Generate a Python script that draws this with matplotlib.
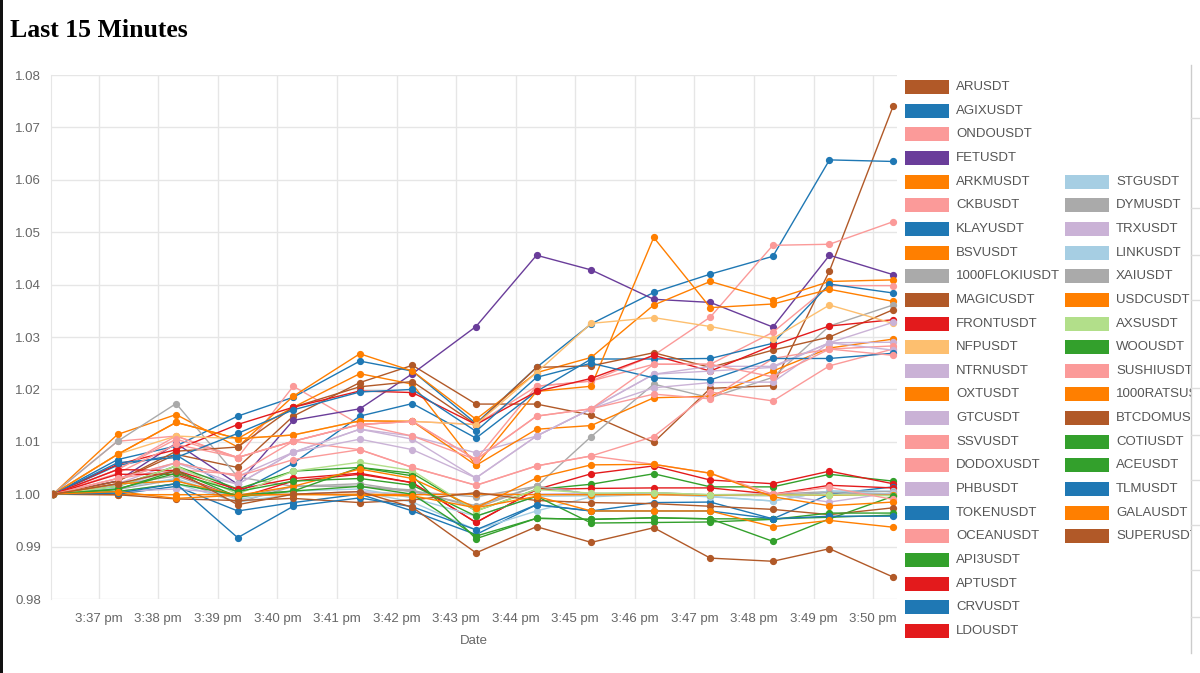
import datetime
import matplotlib
matplotlib.use("Agg")
import matplotlib.pyplot as plt
import matplotlib.dates as mdates
from matplotlib.patches import Rectangle
from matplotlib.lines import Line2D
from matplotlib.ticker import FuncFormatter

# ---------------- data ----------------
times = ["15:36:14", "15:37:19", "15:38:18", "15:39:20", "15:40:16", "15:41:23", "15:42:16",
         "15:43:20", "15:44:21", "15:45:16", "15:46:19", "15:47:16", "15:48:19", "15:49:16", "15:50:20"]

ARUSDT = [1.0, 1.0025, 1.0076, 1.0051, 1.0149, 1.0213, 1.0246, 1.0172, 1.0172, 1.0151, 1.0099, 1.0202, 1.0207, 1.0426, 1.0740]
AGIXUSDT = [1.0, 1.0066, 1.0092, 1.0149, 1.0185, 1.0254, 1.0235, 1.0135, 1.0242, 1.0325, 1.0385, 1.0420, 1.0454, 1.0638, 1.0635]
ONDOUSDT = [1.0, 1.0047, 1.0111, 1.0070, 1.0206, 1.0133, 1.0139, 1.0066, 1.0206, 1.0216, 1.0265, 1.0338, 1.0475, 1.0477, 1.0520]
FETUSDT = [1.0, 1.0025, 1.0097, 1.0019, 1.0141, 1.0163, 1.0230, 1.0320, 1.0456, 1.0428, 1.0372, 1.0366, 1.0319, 1.0456, 1.0419]
ARKMUSDT = [1.0, 1.0114, 1.0152, 1.0090, 1.0187, 1.0268, 1.0235, 1.0143, 1.0232, 1.0261, 1.0361, 1.0406, 1.0371, 1.0406, 1.0409]
CKBUSDT = [1.0, 1.0101, 1.0111, 1.0070, 1.0101, 1.0133, 1.0139, 1.0133, 1.0206, 1.0216, 1.0248, 1.0248, 1.0309, 1.0398, 1.0398]
KLAYUSDT = [1.0, 1.0055, 1.0075, 1.0003, 1.0059, 1.0149, 1.0173, 1.0107, 1.0196, 1.0258, 1.0258, 1.0259, 1.0288, 1.0401, 1.0384]
BSVUSDT = [1.0, 1.0076, 1.0137, 1.0106, 1.0166, 1.0230, 1.0210, 1.0055, 1.0196, 1.0206, 1.0490, 1.0356, 1.0363, 1.0391, 1.0368]
FLOKIUSDT = [1.0, 1.0101, 1.0173, 1.0033, 1.0015, 1.0015, 1.0005, 0.9995, 1.0015, 1.0110, 1.0210, 1.0184, 1.0223, 1.0321, 1.0361]
MAGICUSDT = [1.0, 1.0025, 1.0082, 1.0090, 1.0166, 1.0205, 1.0215, 1.0133, 1.0242, 1.0245, 1.0270, 1.0242, 1.0275, 1.0300, 1.0352]
FRONTUSDT = [1.0, 1.0057, 1.0085, 1.0133, 1.0166, 1.0197, 1.0194, 1.0133, 1.0196, 1.0221, 1.0265, 1.0235, 1.0284, 1.0321, 1.0333]
NFPUSDT = [1.0, 1.0076, 1.0111, 1.0106, 1.0113, 1.0140, 1.0139, 1.0133, 1.0232, 1.0326, 1.0337, 1.0320, 1.0297, 1.0361, 1.0326]
NTRNUSDT = [1.0, 1.0030, 1.0060, 1.0034, 1.0080, 1.0124, 1.0111, 1.0079, 1.0111, 1.0163, 1.0229, 1.0235, 1.0242, 1.0289, 1.0328]
OXTUSDT = [1.0, 1.0076, 1.0137, 1.0106, 1.0113, 1.0140, 1.0139, 1.0055, 1.0124, 1.0131, 1.0184, 1.0187, 1.0235, 1.0279, 1.0296]
GTCUSDT = [1.0, 1.0020, 1.0060, 1.0019, 1.0080, 1.0124, 1.0105, 1.0031, 1.0111, 1.0163, 1.0203, 1.0213, 1.0214, 1.0289, 1.0290]
SSVUSDT = [1.0, 1.0047, 1.0105, 1.0070, 1.0101, 1.0133, 1.0139, 1.0066, 1.0149, 1.0163, 1.0191, 1.0182, 1.0259, 1.0277, 1.0283]
DODOXUSDT = [1.0, 1.0030, 1.0047, 1.0038, 1.0101, 1.0085, 1.0051, 1.0017, 1.0054, 1.0073, 1.0110, 1.0195, 1.0178, 1.0245, 1.0277]
PHBUSDT = [1.0, 1.0015, 1.0047, 1.0019, 1.0080, 1.0105, 1.0085, 1.0031, 1.0111, 1.0163, 1.0229, 1.0244, 1.0244, 1.0289, 1.0275]
TOKENUSDT = [1.0, 1.0060, 1.0070, 1.0116, 1.0161, 1.0195, 1.0200, 1.0120, 1.0223, 1.0250, 1.0222, 1.0218, 1.0259, 1.0259, 1.0269]
OCEANUSDT = [1.0, 1.0040, 1.0095, 1.0070, 1.0101, 1.0133, 1.0111, 1.0066, 1.0149, 1.0163, 1.0248, 1.0248, 1.0224, 1.0277, 1.0265]
API3USDT = [1.0, 1.0015, 1.0054, 1.0010, 1.0044, 1.0051, 1.0040, 0.9968, 1.0009, 1.0019, 1.0039, 1.0014, 1.0014, 1.0038, 1.0025]
APTUSDT = [1.0, 1.0038, 1.0038, 0.9993, 1.0025, 1.0038, 1.0022, 0.9946, 1.0009, 1.0039, 1.0054, 1.0027, 1.0020, 1.0044, 1.0020]
CRVUSDT = [1.0, 1.0000, 1.0015, 0.9968, 0.9984, 1.0000, 0.9968, 0.9923, 0.9980, 0.9968, 0.9984, 0.9985, 0.9953, 1.0000, 1.0014]
LDOUSDT = [1.0, 1.0047, 1.0045, 1.0009, 1.0030, 1.0040, 1.0022, 0.9946, 1.0009, 1.0011, 1.0012, 1.0012, 1.0000, 1.0017, 1.0012]
STGUSDT = [1.0, 1.0005, 1.0020, 0.9985, 1.0000, 1.0005, 0.9985, 0.9932, 0.9968, 0.9995, 1.0000, 0.9995, 0.9987, 1.0006, 1.0006]
DYMUSDT = [1.0, 1.0009, 1.0028, 0.9984, 1.0015, 1.0015, 1.0008, 0.9974, 1.0015, 1.0000, 1.0003, 0.9999, 1.0000, 1.0005, 1.0005]
TRXUSDT = [1.0, 1.0005, 1.0010, 1.0000, 1.0000, 1.0005, 1.0000, 1.0000, 1.0000, 1.0002, 1.0000, 0.9998, 1.0000, 0.9985, 1.0003]
LINKUSDT = [1.0, 1.0012, 1.0030, 0.9990, 1.0006, 1.0010, 0.9993, 0.9958, 0.9996, 0.9997, 1.0003, 0.9996, 0.9987, 1.0006, 1.0000]
XAIUSDT = [1.0, 1.0018, 1.0035, 0.9993, 1.0015, 1.0020, 1.0005, 0.9978, 1.0015, 1.0000, 1.0003, 0.9998, 0.9997, 1.0003, 0.9999]
USDCUSDT = [1.0, 0.9999, 0.9999, 0.9999, 0.9999, 1.0000, 0.9999, 1.0000, 0.9999, 0.9999, 0.9999, 0.9998, 0.9999, 0.9998, 0.9998]
AXSUSDT = [1.0, 1.0015, 1.0054, 1.0000, 1.0044, 1.0061, 1.0045, 0.9968, 1.0009, 1.0002, 1.0003, 0.9999, 0.9998, 0.9999, 0.9997]
WOOUSDT = [1.0, 1.0009, 1.0045, 0.9995, 1.0006, 1.0051, 1.0035, 0.9915, 0.9954, 0.9952, 0.9955, 0.9953, 0.9910, 0.9953, 0.9996]
SUSHIUSDT = [1.0, 1.0030, 1.0060, 1.0034, 1.0066, 1.0085, 1.0051, 1.0017, 1.0054, 1.0073, 1.0057, 1.0040, 1.0000, 1.0013, 0.9990]
RATSUSDT = [1.0, 1.0020, 1.0025, 0.9998, 1.0015, 1.0048, 1.0030, 0.9974, 1.0031, 1.0056, 1.0057, 1.0040, 0.9995, 0.9978, 0.9985]
BTCDOMUSDT = [1.0, 0.9999, 0.9991, 0.9988, 0.9992, 0.9984, 0.9989, 1.0003, 0.9988, 0.9984, 0.9982, 0.9977, 0.9971, 0.9961, 0.9974]
COTIUSDT = [1.0, 1.0010, 1.0040, 1.0005, 1.0025, 1.0030, 1.0017, 0.9958, 0.9996, 0.9945, 0.9946, 0.9947, 0.9952, 0.9964, 0.9964]
ACEUSDT = [1.0, 1.0005, 1.0020, 0.9998, 1.0006, 1.0015, 1.0000, 0.9920, 0.9954, 0.9952, 0.9955, 0.9953, 0.9953, 0.9956, 0.9960]
TLMUSDT = [1.0, 1.0002, 1.0020, 0.9917, 0.9977, 0.9993, 0.9976, 0.9932, 0.9980, 0.9968, 0.9968, 0.9968, 0.9953, 0.9958, 0.9958]
GALAUSDT = [1.0, 1.0005, 0.9992, 0.9998, 1.0000, 0.9998, 0.9997, 0.9974, 0.9996, 0.9968, 0.9968, 0.9968, 0.9938, 0.9950, 0.9937]
SUPERUSDT = [1.0, 1.0020, 1.0045, 0.9980, 1.0000, 1.0005, 0.9975, 0.9888, 0.9938, 0.9908, 0.9936, 0.9878, 0.9872, 0.9896, 0.9842]

names = ["ARUSDT", "AGIXUSDT", "ONDOUSDT", "FETUSDT", "ARKMUSDT", "CKBUSDT", "KLAYUSDT", "BSVUSDT",
         "1000FLOKIUSDT", "MAGICUSDT", "FRONTUSDT", "NFPUSDT", "NTRNUSDT", "OXTUSDT", "GTCUSDT", "SSVUSDT",
         "DODOXUSDT", "PHBUSDT", "TOKENUSDT", "OCEANUSDT", "API3USDT", "APTUSDT", "CRVUSDT", "LDOUSDT",
         "STGUSDT", "DYMUSDT", "TRXUSDT", "LINKUSDT", "XAIUSDT", "USDCUSDT", "AXSUSDT", "WOOUSDT",
         "SUSHIUSDT", "1000RATSUSDT", "BTCDOMUSDT", "COTIUSDT", "ACEUSDT", "TLMUSDT", "GALAUSDT", "SUPERUSDT"]
series = [ARUSDT, AGIXUSDT, ONDOUSDT, FETUSDT, ARKMUSDT, CKBUSDT, KLAYUSDT, BSVUSDT,
          FLOKIUSDT, MAGICUSDT, FRONTUSDT, NFPUSDT, NTRNUSDT, OXTUSDT, GTCUSDT, SSVUSDT,
          DODOXUSDT, PHBUSDT, TOKENUSDT, OCEANUSDT, API3USDT, APTUSDT, CRVUSDT, LDOUSDT,
          STGUSDT, DYMUSDT, TRXUSDT, LINKUSDT, XAIUSDT, USDCUSDT, AXSUSDT, WOOUSDT,
          SUSHIUSDT, RATSUSDT, BTCDOMUSDT, COTIUSDT, ACEUSDT, TLMUSDT, GALAUSDT, SUPERUSDT]

BROWN, BLUE, PINK, PURPLE = "#b15928", "#1f78b4", "#fb9a99", "#6a3d9a"
ORANGE, GRAY, RED, LORANGE = "#ff7f00", "#aaaaaa", "#e31a1c", "#fdbf6f"
LPURPLE, GREEN, LBLUE, LGREEN = "#cab2d6", "#33a02c", "#a6cee3", "#b2df8a"
colors = [BROWN, BLUE, PINK, PURPLE, ORANGE, PINK, BLUE, ORANGE,
          GRAY, BROWN, RED, LORANGE, LPURPLE, ORANGE, LPURPLE, PINK,
          PINK, LPURPLE, BLUE, PINK, GREEN, RED, BLUE, RED,
          LBLUE, GRAY, LPURPLE, LBLUE, GRAY, ORANGE, LGREEN, GREEN,
          PINK, ORANGE, BROWN, GREEN, GREEN, BLUE, ORANGE, BROWN]

yticks = [0.98, 0.99, 1.00, 1.01, 1.02, 1.03, 1.04, 1.05, 1.06, 1.07, 1.08]

# ---------------- figure ----------------
W, H = 1200, 673
fig = plt.figure(figsize=(W / 100, H / 100), dpi=100)
fig.patch.set_facecolor("white")
SANS = ["Liberation Sans", "DejaVu Sans"]


def fx(px):
    return px / W


def fy(py):
    return 1 - py / H


ax_l, ax_r, ax_t, ax_b = 51, 897, 75, 599
ax = fig.add_axes([fx(ax_l), fy(ax_b), fx(ax_r - ax_l), fy(ax_t) - fy(ax_b)])

dates = [datetime.datetime(2024, 3, 1, *map(int, t.split(":"))) for t in times]
for vals, col in zip(series, colors):
    ax.plot(dates, vals, color=col, lw=1.0, marker="o", ms=4.2, mec=col, mfc=col, zorder=2)

ax.set_ylim(0.98, 1.08)
ax.set_xlim(datetime.datetime(2024, 3, 1, 15, 36, 12), datetime.datetime(2024, 3, 1, 15, 50, 24))
ax.set_yticks(yticks)
ax.set_yticklabels([f"{v:.2f}" for v in yticks])
ax.xaxis.set_major_locator(mdates.MinuteLocator())


def fmt(x, pos=None):
    d = mdates.num2date(x)
    h = d.hour % 12 or 12
    return f"{h}:{d.minute:02d} {'pm' if d.hour >= 12 else 'am'}"


ax.xaxis.set_major_formatter(FuncFormatter(fmt))
ax.grid(True, color="#e6e6e6", lw=1.0, zorder=0)
ax.set_axisbelow(True)
for s in ["top", "right", "bottom"]:
    ax.spines[s].set_visible(False)
ax.spines["left"].set_color("#e6e6e6")
ax.tick_params(length=0, pad=7, labelsize=9.5, colors="#666666")
ax.tick_params(axis="x", pad=10)
for lab in ax.get_xticklabels() + ax.get_yticklabels():
    lab.set_family(SANS)
ax.set_xlabel("Date", fontsize=9.5, color="#666666", family=SANS, labelpad=7)

# title
fig.text(fx(10), fy(37), "Last 15 Minutes", fontsize=18.5, fontweight="bold",
         family=["Liberation Serif", "DejaVu Serif"], color="black", va="baseline")

# legend (two vertically centred columns)
row0, dy = 87, 23.65
for i, (nm, col) in enumerate(zip(names, colors)):
    if i < 24:
        r, sx, tx = i, 905, 956
    else:
        r, sx, tx = i - 20, 1065, 1116
    yc = row0 + r * dy
    fig.patches.append(Rectangle((fx(sx), fy(yc + 7)), fx(44), fy(yc - 7) - fy(yc + 7),
                                 transform=fig.transFigure, facecolor=col, edgecolor="none", zorder=2))
    fig.text(fx(tx), fy(yc), nm, fontsize=9.5, color="#555555", family=SANS, va="center", zorder=3)

# clipped side panel at right
fig.patches.append(Rectangle((fx(1191), 0), fx(W - 1191), 1, transform=fig.transFigure,
                             facecolor="white", edgecolor="none", zorder=10))
fig.lines.append(Line2D([fx(1191), fx(1191)], [fy(65), fy(653)], transform=fig.transFigure,
                        color="#cccccc", lw=1.0, zorder=11))
for yy in [118, 208, 255, 300, 388, 435, 480, 525, 570, 617]:
    fig.lines.append(Line2D([fx(1191), 1], [fy(yy), fy(yy)], transform=fig.transFigure,
                            color="#dddddd", lw=1.0, zorder=11))

# dark strip at left edge of screenshot
fig.patches.append(Rectangle((0, 0), fx(3), 1, transform=fig.transFigure,
                             facecolor="#111111", edgecolor="none", zorder=10))

fig.savefig("out.png", dpi=100, facecolor="white")
